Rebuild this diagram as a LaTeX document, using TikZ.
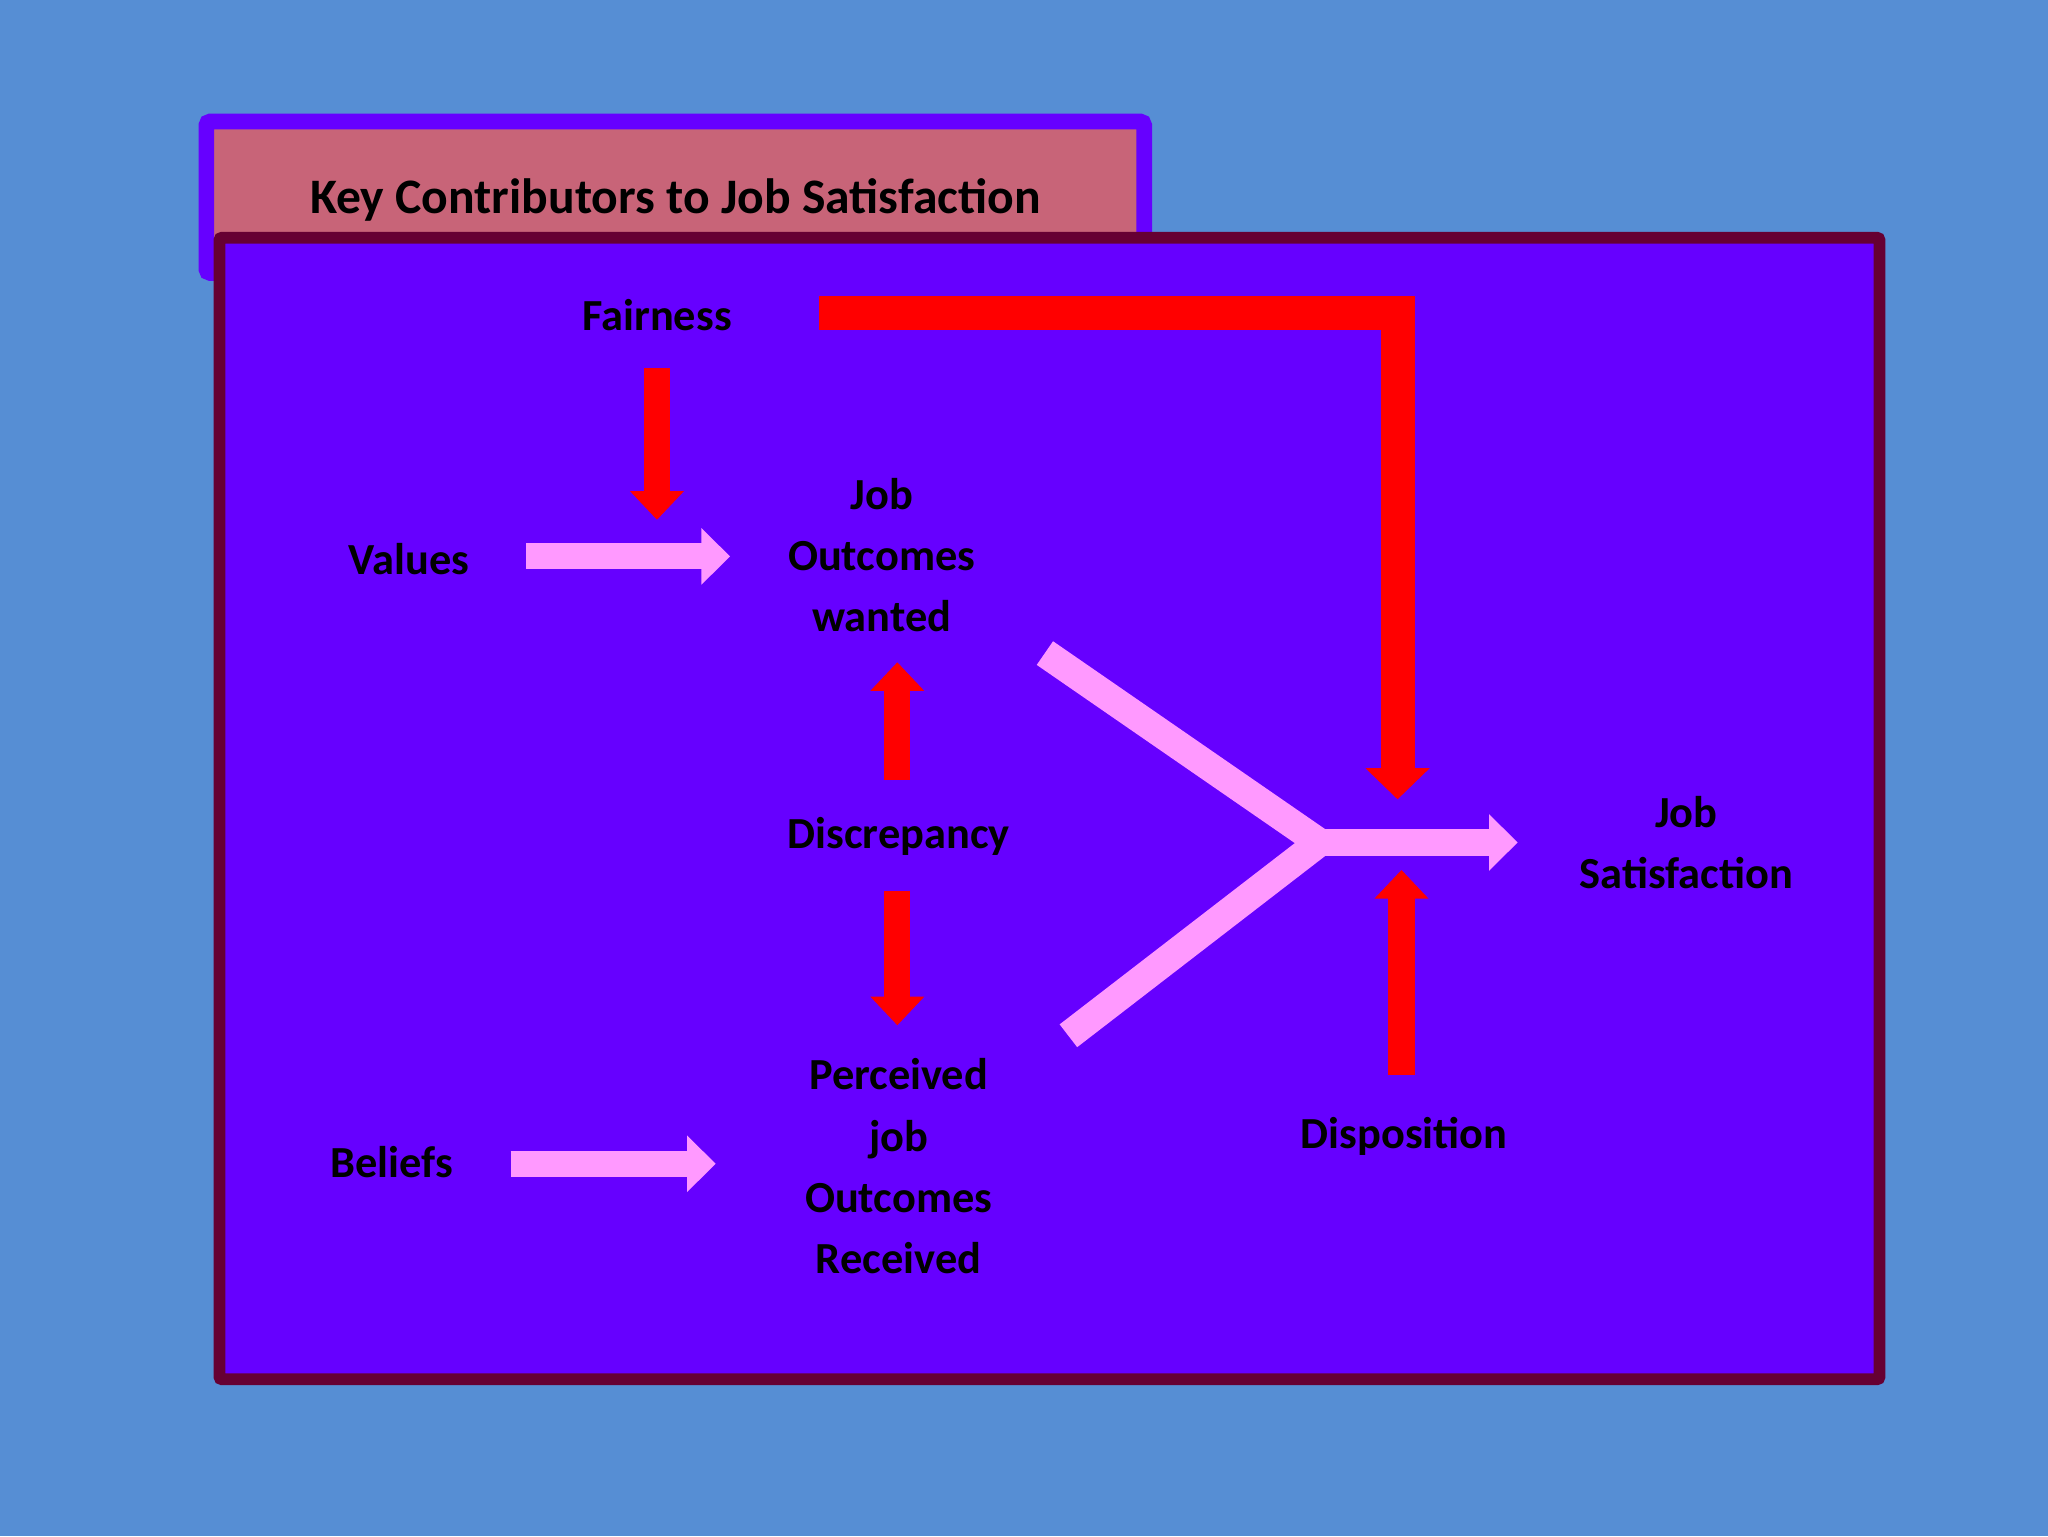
\documentclass[tikz,border=0pt]{standalone}
\usepackage{fontspec}
\setmainfont{Carlito}
\usetikzlibrary{arrows.meta}
\definecolor{bg}{RGB}{86,142,212}
\definecolor{vio}{RGB}{102,0,255}
\definecolor{tab}{RGB}{200,100,120}
\definecolor{maroon}{RGB}{102,0,51}
\definecolor{pinkA}{RGB}{255,153,255}
\tikzset{
  lbl/.style={font=\fontsize{34}{47}\selectfont\bfseries, align=center, text=black},
  redarr/.style={draw=red, line width=20pt, -{Triangle[width=40pt,length=22pt]}},
  pinkarr/.style={draw=pinkA, line width=20pt, -{Triangle[width=42pt,length=22pt]}},
  pinkline/.style={draw=pinkA, line width=22pt},
}
\begin{document}
\begin{tikzpicture}[x=1pt,y=-1pt]
\fill[bg] (0,0) rectangle (1568,1176);
\useasboundingbox (0,0) rectangle (1568,1176);
% title tab
\filldraw[fill=tab, draw=vio, line width=12pt, rounded corners=3pt] (158,93) rectangle (876,209);
\node[lbl, font=\fontsize{38}{46}\selectfont\bfseries] (title) at (517,153) {Key Contributors to Job Satisfaction};
% main box
\filldraw[fill=vio, draw=maroon, line width=9pt, rounded corners=2pt] (168,182) rectangle (1439,1056);
% labels
\node[lbl] (fair) at (503,241) {Fairness};
\node[lbl] (val) at (313,428) {Values};
\node[lbl] (jow) at (675,425) {Job\\Outcomes\\wanted};
\node[lbl] (disc) at (688,640) {Discrepancy};
\node[lbl] (per) at (688,893) {Perceived\\job\\Outcomes\\Received};
\node[lbl] (bel) at (300,890) {Beliefs};
\node[lbl] (disp) at (1075,870) {Disposition};
\node[lbl] (js) at (1291,645) {Job\\Satisfaction};
% coordinates
\coordinate (f1) at (503,282); \coordinate (f2) at (503,398);
\coordinate (d1) at (687,597); \coordinate (d2) at (687,507);
\coordinate (d3) at (687,682); \coordinate (d4) at (687,785);
\coordinate (p1) at (1073,823); \coordinate (p2) at (1073,666);
\coordinate (g1) at (627,240); \coordinate (g2) at (1070,240); \coordinate (g3) at (1070,612);
\coordinate (v1) at (403,426); \coordinate (v2) at (559,426);
\coordinate (b1) at (391,891); \coordinate (b2) at (548,891);
\coordinate (y1) at (800,500); \coordinate (y2) at (818,793);
\coordinate (yc) at (1010,645); \coordinate (ye) at (1162,645);
% arrows
\draw[redarr] (f1) -- (f2);
\draw[redarr] (d1) -- (d2);
\draw[redarr] (d3) -- (d4);
\draw[redarr] (p1) -- (p2);
\draw[draw=red, line width=26pt, -{Triangle[width=48pt,length=24pt]}] (g1) -- (g2) -- (g3);
\draw[pinkarr] (v1) -- (v2);
\draw[pinkarr] (b1) -- (b2);
\draw[pinkline, line join=miter] (y1) -- (yc) -- (y2);
\draw[pinkarr] (yc) -- (ye);
\end{tikzpicture}
\end{document}
